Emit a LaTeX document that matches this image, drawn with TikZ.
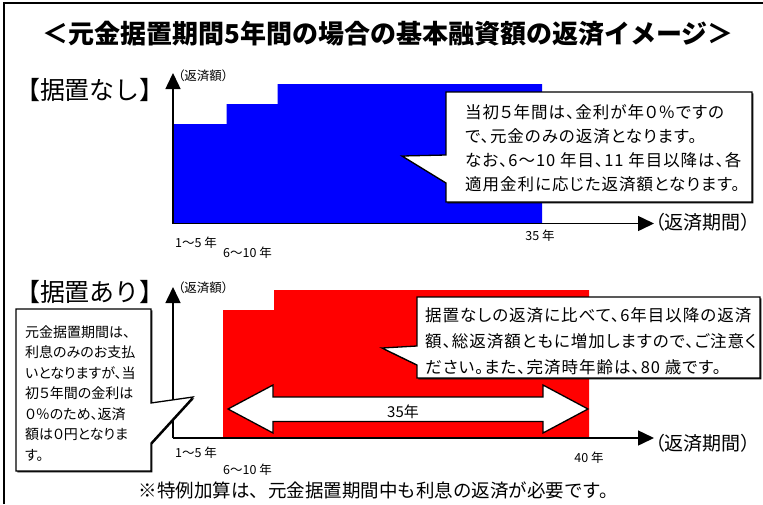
\documentclass[tikz,border=0pt]{standalone}
\usepackage{fontspec}
\newfontfamily\jp{Noto Sans CJK JP}
\newfontfamily\jpp[RawFeature=+palt]{Noto Sans CJK JP}
\newfontfamily\jpc[RawFeature=+palt,LetterSpace=6]{Noto Sans CJK JP}
\usetikzlibrary{arrows.meta}
\definecolor{cblue}{RGB}{0,0,255}
\definecolor{cred}{RGB}{255,0,0}
\begin{document}
\begin{tikzpicture}[x=1pt,y=-1pt,
  lbl/.style={inner sep=0pt},
  axisline/.style={line width=1.5pt, -{Triangle[length=16pt,width=15pt]}},
  callout/.style={fill=white, draw=black, line width=1.3pt, line join=miter},
  cshadow/.style={fill=black},
  ctext/.style={inner sep=0pt, align=left, anchor=west},
  tick/.style={inner sep=0pt, font={\jp\fontsize{12.5}{14}\selectfont}},
  bigl/.style={inner sep=0pt, font={\jp\fontsize{25}{30}\selectfont}},
  ylab/.style={inner sep=0pt, anchor=west, font={\jpp\fontsize{12.5}{14}\selectfont}},
  xlab/.style={inner sep=0pt, anchor=west, font={\jpp\fontsize{19}{21}\selectfont}},
]
\useasboundingbox (0,0) rectangle (763,504);
\fill[white] (0,0) rectangle (763,504);
% frame (only top and left edges visible)
\coordinate (fbl) at (4,504);
\coordinate (ftl) at (4,2.5);
\coordinate (ftr) at (763,2.5);
\draw[line width=2pt] (fbl) -- (ftl) -- (ftr);

% title
\node[lbl, font={\jp\bfseries\fontsize{26}{30}\selectfont}] (title) at (388,34) {＜元金据置期間5年間の場合の基本融資額の返済イメージ＞};

% ---------- top chart ----------
\node[bigl] (lab1) at (90,90) {【据置なし】};
\fill[cblue] (173,223) -- (173,124) -- (226.5,124) -- (226.5,104) -- (277.5,104) -- (277.5,84) -- (542,84) -- (542,223) -- cycle;
\coordinate (o1) at (173,223.5);
\coordinate (y1) at (173,73);
\coordinate (x1) at (654,223.5);
\draw[axisline] (o1) -- (y1);
\draw[axisline] (o1) -- (x1);
\node[ylab] (yl1) at (178,76) {（返済額）};
\node[xlab] (xl1) at (655,222) {（返済期間）};
\node[tick, anchor=west] (t1a) at (175,243) {1〜5 年};
\node[tick, anchor=west] (t1b) at (223,253) {6〜10 年};
\node[tick] (t1c) at (540,236) {35 年};

% top callout
\fill[cshadow, shift={(1.3,1.3)}] (446,92) -- (752,92) -- (752,202) -- (446,202) -- (446,183) -- (402,156) -- (446,155) -- cycle;
\draw[callout] (446,92) -- (752,92) -- (752,202) -- (446,202) -- (446,183) -- (402,156) -- (446,155) -- cycle;
\node[ctext, font={\jpc\fontsize{16.5}{24}\selectfont}] (c1) at (465,148) {当初５年間は、金利が年０％ですの\\で、元金のみの返済となります。\\なお、6〜10 年目、11 年目以降は、各\\適用金利に応じた返済額となります。};

% ---------- bottom chart ----------
\node[bigl] (lab2) at (90,292) {【据置あり】};
\fill[cred] (223,438) -- (223,310) -- (274,310) -- (274,290) -- (589,290) -- (589,438) -- cycle;
\coordinate (o2) at (173,438);
\coordinate (y2) at (173,287);
\coordinate (x2) at (654,438);
\draw[axisline] (o2) -- (y2);
\draw[axisline] (o2) -- (x2);
\node[ylab] (yl2) at (178,288) {（返済額）};
\node[xlab] (xl2) at (655,443) {（返済期間）};
\node[tick, anchor=west] (t2a) at (175,453) {1〜5 年};
\node[tick, anchor=west] (t2b) at (223,470) {6〜10 年};
\node[tick] (t2c) at (589,458) {40 年};

% double arrow 35年
\draw[fill=white, line width=1.3pt, line join=miter] (228,409) -- (273,385) -- (273,397) -- (543,397) -- (543,385) -- (588,409) -- (543,433) -- (543,421.5) -- (273,421.5) -- (273,433) -- cycle;
\node[lbl, font={\jp\fontsize{15}{17}\selectfont}] (span) at (403,412) {35年};

% left callout
\fill[cshadow, shift={(1.3,1.3)}] (16,309) -- (151,309) -- (151,403) -- (193,397) -- (151,443) -- (151,471) -- (16,471) -- cycle;
\draw[callout] (16,309) -- (151,309) -- (151,403) -- (193,397) -- (151,443) -- (151,471) -- (16,471) -- cycle;
\node[ctext, font={\jpp\fontsize{14}{20.5}\selectfont}] (c2) at (25,393.5) {元金据置期間は、\\利息のみのお支払\\いとなりますが、当\\初５年間の金利は\\０％のため、返済\\額は０円となりま\\す。};

% right callout
\fill[cshadow, shift={(1.3,1.3)}] (417,297) -- (760,297) -- (760,378) -- (417,378) -- (417,365) -- (382,348) -- (417,346) -- cycle;
\draw[callout] (417,297) -- (760,297) -- (760,378) -- (417,378) -- (417,365) -- (382,348) -- (417,346) -- cycle;
\node[ctext, font={\jpc\fontsize{16.5}{26}\selectfont}] (c3) at (425,341) {据置なしの返済に比べて、6年目以降の返済\\額、総返済額ともに増加しますので、ご注意く\\ださい。また、完済時年齢は、80 歳です。};

% footnote
\node[lbl, font={\jp\fontsize{18.5}{22}\selectfont}] (foot) at (378.5,490) {※特例加算は、元金据置期間中も利息の返済が必要です。};
\end{tikzpicture}
\end{document}
